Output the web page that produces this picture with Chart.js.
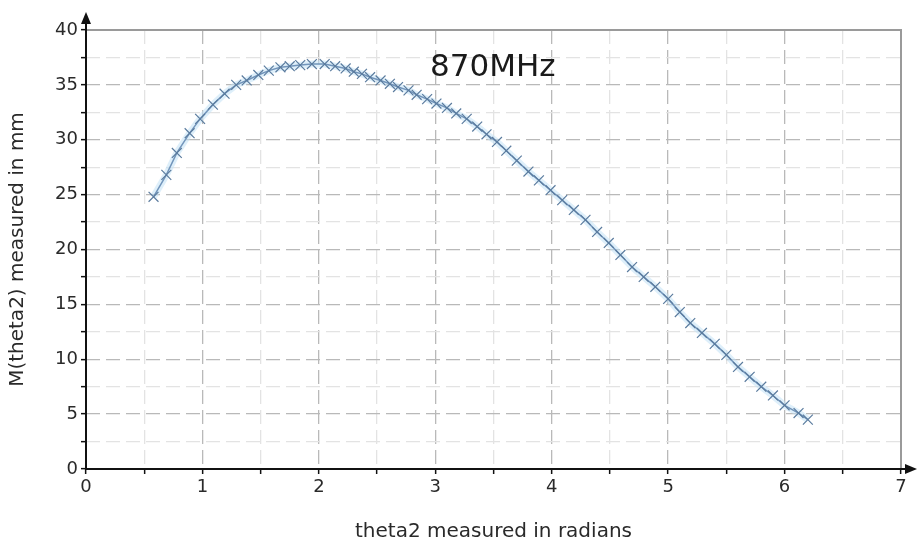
<!DOCTYPE html>
<html>
<head>
<meta charset="utf-8">
<script src="https://cdn.jsdelivr.net/npm/chart.js@4/dist/chart.umd.min.js"></script>
<style>
  html, body { margin: 0; padding: 0; background: #ffffff; }
  #wrap { width: 918px; height: 545px; position: relative; }
</style>
</head>
<body>
<div id="wrap"><canvas id="c" width="918" height="545"></canvas></div>
<script>
// ---- data ----
const theta2 = [0.58,0.69,0.78,0.89,0.98,1.09,1.19,1.29,1.38,1.48,1.57,1.67,1.75,1.84,1.94,2.05,2.14,2.23,2.30,2.37,2.44,2.53,2.61,2.68,2.77,2.84,2.93,3.01,3.10,3.18,3.27,3.36,3.44,3.53,3.61,3.70,3.80,3.89,3.99,4.09,4.19,4.29,4.39,4.49,4.59,4.69,4.79,4.89,5.00,5.10,5.19,5.29,5.40,5.50,5.60,5.70,5.80,5.90,6.00,6.12,6.20];
const mTheta2 = [24.8,26.8,28.8,30.6,31.9,33.2,34.2,35.0,35.4,35.9,36.3,36.6,36.7,36.8,36.9,36.9,36.7,36.5,36.2,36.0,35.7,35.4,35.1,34.8,34.5,34.1,33.7,33.3,32.9,32.4,31.9,31.2,30.5,29.8,29.0,28.1,27.1,26.3,25.4,24.5,23.6,22.7,21.6,20.6,19.5,18.4,17.5,16.6,15.5,14.3,13.3,12.4,11.4,10.4,9.3,8.4,7.5,6.7,5.8,5.1,4.5];
const xTickLabels = ['0','1','2','3','4','5','6','7'];
const yTickLabels = ['0','5','10','15','20','25','30','35','40'];
const seriesLabel = '870MHz';
const xTitle = 'theta2 measured in radians';
const yTitle = 'M(theta2) measured in mm';

const points = theta2.map((x, i) => ({ x: x, y: mTheta2[i] }));

const FONT = "'DejaVu Sans', sans-serif";

const framePlugin = {
  id: 'frame',
  afterDraw(chart) {
    const { ctx, chartArea: a } = chart;
    ctx.save();
    // grey top and right border
    ctx.strokeStyle = '#9a9a9a';
    ctx.lineWidth = 2;
    ctx.beginPath();
    ctx.moveTo(a.left, a.top);
    ctx.lineTo(a.right, a.top);
    ctx.lineTo(a.right, a.bottom);
    ctx.stroke();
    // black axes
    ctx.strokeStyle = '#111';
    ctx.fillStyle = '#111';
    ctx.lineWidth = 2;
    ctx.beginPath();
    ctx.moveTo(a.left, a.bottom);
    ctx.lineTo(a.left, a.top - 10);
    ctx.moveTo(a.left, a.bottom);
    ctx.lineTo(a.right + 4, a.bottom);
    ctx.stroke();
    // arrow heads
    ctx.beginPath();
    ctx.moveTo(a.left, a.top - 18);
    ctx.lineTo(a.left - 5, a.top - 6);
    ctx.lineTo(a.left + 5, a.top - 6);
    ctx.closePath();
    ctx.fill();
    ctx.beginPath();
    ctx.moveTo(a.right + 16, a.bottom);
    ctx.lineTo(a.right + 4, a.bottom - 5);
    ctx.lineTo(a.right + 4, a.bottom + 5);
    ctx.closePath();
    ctx.fill();
    // annotation text
    const xs = chart.scales.x, ys = chart.scales.y;
    ctx.font = '31px ' + FONT;
    ctx.fillStyle = '#1a1a1a';
    ctx.textAlign = 'left';
    ctx.textBaseline = 'middle';
    ctx.fillText(seriesLabel, xs.getPixelForValue(2.955), ys.getPixelForValue(36.5));
    ctx.restore();
  }
};

const majorX = v => Math.abs(v - Math.round(v)) < 1e-6;
const majorY = v => Math.abs(v / 5 - Math.round(v / 5)) < 1e-6;

new Chart(document.getElementById('c'), {
  type: 'scatter',
  data: {
    datasets: [
      {
        label: seriesLabel + ' halo',
        data: points,
        showLine: true,
        borderColor: 'rgba(195,225,246,0.55)',
        borderWidth: 7,
        pointRadius: 0,
        order: 2
      },
      {
        label: seriesLabel,
        data: points,
        showLine: true,
        borderColor: '#7295bb',
        borderWidth: 1.5,
        pointStyle: 'crossRot',
        pointRadius: 7,
        pointBorderColor: '#5a7b9e',
        pointBorderWidth: 1.2,
        order: 1
      }
    ]
  },
  options: {
    responsive: false,
    animation: false,
    layout: { padding: { top: 30, right: 17, left: 0, bottom: 0 } },
    plugins: { legend: { display: false }, tooltip: { enabled: false } },
    scales: {
      x: {
        type: 'linear',
        min: 0, max: 7,
        afterFit(s) { s.height = 76; },
        ticks: {
          stepSize: 0.5,
          autoSkip: false,
          maxRotation: 0,
          padding: 3,
          color: '#2a2a2a',
          font: { family: FONT, size: 18 },
          callback: v => majorX(v) ? xTickLabels[Math.round(v)] : ''
        },
        grid: {
          color: c => majorX(c.tick.value) ? '#b9b9b9' : '#e3e3e3',
          lineWidth: 1.3,
          tickColor: '#111',
          tickLength: 5,
          tickWidth: 1.5
        },
        border: { display: false, dash: [14, 6] },
        title: {
          display: true,
          text: xTitle,
          color: '#2a2a2a',
          font: { family: FONT, size: 20 },
          padding: { top: 0, bottom: 1 }
        }
      },
      y: {
        type: 'linear',
        min: 0, max: 40,
        afterFit(s) { s.width = 86; },
        ticks: {
          stepSize: 2.5,
          autoSkip: false,
          padding: 3,
          color: '#2a2a2a',
          font: { family: FONT, size: 18 },
          callback: v => majorY(v) ? yTickLabels[Math.round(v / 5)] : ''
        },
        grid: {
          color: c => majorY(c.tick.value) ? '#b9b9b9' : '#e3e3e3',
          lineWidth: 1.3,
          tickColor: '#111',
          tickLength: 5,
          tickWidth: 1.5
        },
        border: { display: false, dash: [14, 6] },
        title: {
          display: true,
          text: yTitle,
          color: '#2a2a2a',
          font: { family: FONT, size: 20 },
          padding: { top: 6, bottom: 0 }
        }
      }
    }
  },
  plugins: [framePlugin]
});
</script>
</body>
</html>
